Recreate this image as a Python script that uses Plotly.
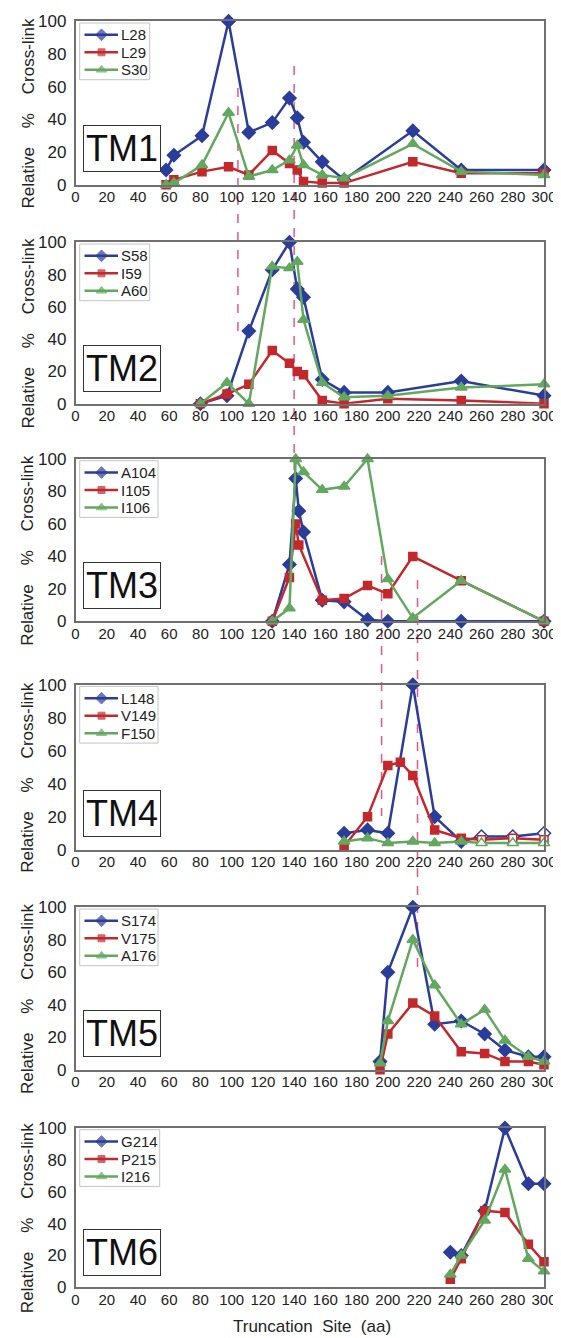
import plotly.graph_objects as go

# ---------------- data ----------------
tick_x = list(range(0, 301, 20))
tick_y = list(range(0, 101, 20))

tm1_x = [58, 63, 81, 98, 111, 126, 137, 142, 146, 158, 172, 216, 247, 300]
l28 = [9, 18, 30, 100, 32, 38, 53, 41, 26, 14, 3, 33, 9, 9]
l29 = [0, 3, 8, 11, 6, 21, 13, 9, 2, 1, 1, 14, 7, 7]
s30 = [0, 1, 12, 44, 5, 9, 15, 24, 12, 6, 4, 25, 8, 6]

tm2_x = [80, 97, 111, 126, 137, 142, 146, 158, 172, 200, 247, 300]
s58 = [0, 5, 45, 83, 100, 71, 66, 15, 7, 7, 14, 5]
i59 = [0, 6, 12, 33, 25, 20, 18, 2, 0, 3, 2, 0]
a60 = [0, 13, 0, 85, 84, 88, 52, 13, 4, 5, 10, 12]

tm3_x = [126, 137, 141, 143, 146, 158, 172, 187, 200, 216, 247, 300]
a104 = [0, 35, 88, 68, 55, 13, 12, 1, 0, None, 0, 0]
i105 = [0, 27, 60, 47, None, 13, 14, 22, 17, 40, 25, 0]
i106 = [0, 8, 100, None, 92, 81, 83, 100, 26, 2, 25, 0]

tm4_x = [172, 187, 200, 208, 216, 230, 247, 260, 280, 300]
l148 = [10, 12, 10, None, 100, 20, 5, 8, 8, 10]
v149 = [2, 20, 51, 53, 45, 12, 7, 6, 7, 6]
f150 = [5, 7, 4, None, 5, 4, 5, 4, 4, 4]
tm4_hollow_from = 260

tm5_x = [195, 200, 216, 230, 247, 262, 275, 290, 300]
s174 = [5, 60, 100, 28, 30, 22, 12, 8, 8]
v175 = [0, 22, 41, 33, 11, 10, 5, 5, 3]
a176 = [4, 30, 80, 52, 28, 37, 18, 8, 5]

tm6_x = [240, 247, 262, 275, 290, 300]
g214 = [22, 20, 48, 100, 65, 65]
p215 = [5, 18, 48, 47, 27, 16]
i216 = [8, 20, 42, 74, 18, 10]

panel_names = ["TM1", "TM2", "TM3", "TM4", "TM5", "TM6"]
panel_x = [tm1_x, tm2_x, tm3_x, tm4_x, tm5_x, tm6_x]
series_names = [["L28", "L29", "S30"], ["S58", "I59", "A60"], ["A104", "I105", "I106"],
                ["L148", "V149", "F150"], ["S174", "V175", "A176"], ["G214", "P215", "I216"]]
series_vals = [[l28, l29, s30], [s58, i59, a60], [a104, i105, i106],
               [l148, v149, f150], [s174, v175, a176], [g214, p215, i216]]
hollow_from = [None, None, None, tm4_hollow_from, None, None]

# dashed guide lines: x position (aa)
guide_x = [104, 140, 196, 219]

# ---------------- geometry / style ----------------
W, H = 561, 1338
PX0, PX1 = 67.5, 536.0
PANEL_PX = [(13.3, 176.7), (234.3, 395.7), (451.0, 613.3),
            (676.7, 841.7), (899.3, 1061.7), (1120.0, 1279.3)]
GUIDE_PX = [(80, 328), (58, 462), (548, 808), (572, 965)]

COLORS = ["#2B3D9B", "#C3282C", "#62A85E"]
SYMBOLS = ["diamond", "square", "triangle-up"]
SIZES = [10, 8, 10]
FONT = "Liberation Sans, Arial, sans-serif"
TXT = "#222222"
LEG_FONT = 15
CHAR_W = {"L": .556, "S": .667, "A": .667, "I": .278, "V": .667, "F": .611,
          "G": .778, "P": .667}

fig = go.Figure()
layout = dict(
    width=W, height=H,
    margin=dict(l=0, r=0, t=0, b=0),
    paper_bgcolor="white", plot_bgcolor="rgba(0,0,0,0)",
    font=dict(family=FONT, color=TXT),
    shapes=[], annotations=[], showlegend=False,
)

for i in range(6):
    n = "" if i == 0 else str(i + 1)
    xa, ya = "x" + n, "y" + n
    xs_all = panel_x[i]
    for k in range(3):
        vals = series_vals[i][k]
        xs = [x for x, v in zip(xs_all, vals) if v is not None]
        ys = [v for v in vals if v is not None]
        c = COLORS[k]
        hf = hollow_from[i]
        fills = [c if (hf is None or x < hf) else "white" for x in xs]
        fig.add_trace(go.Scatter(
            x=xs, y=ys, mode="lines+markers", name=series_names[i][k],
            line=dict(color=c, width=2.5),
            marker=dict(symbol=SYMBOLS[k], size=SIZES[k], color=fills,
                        line=dict(color=c, width=1.5)),
            cliponaxis=False, xaxis=xa, yaxis=ya,
        ))
    y100, y0 = PANEL_PX[i]
    layout["xaxis" + n] = dict(
        domain=[PX0 / W, PX1 / W], range=[0, 300], tickvals=tick_x,
        showline=True, mirror=True, linecolor="#707070", linewidth=1.5,
        showgrid=False, zeroline=False, ticks="", ticklabelstandoff=-2,
        tickfont=dict(size=15, color=TXT), anchor=ya, automargin=False,
    )
    layout["yaxis" + n] = dict(
        domain=[1 - y0 / H, 1 - y100 / H], range=[0, 100], tickvals=tick_y,
        showline=True, mirror=True, linecolor="#707070", linewidth=1.5,
        showgrid=False, zeroline=False, ticks="", ticklabelstandoff=4,
        tickfont=dict(size=17, color=TXT), anchor=xa, automargin=False,
    )
    # panel label box
    layout["annotations"].append(dict(
        text=panel_names[i], x=30, y=22, xref=xa, yref=ya, showarrow=False,
        xanchor="center", yanchor="middle",
        font=dict(size=36, color="#111111", family=FONT),
        bordercolor="#333333", borderwidth=1, borderpad=2, bgcolor="white",
    ))
    # y axis title
    layout["annotations"].append(dict(
        text="Relative\u00a0\u00a0\u00a0\u00a0%\u00a0\u00a0\u00a0\u00a0Cross-link",
        x=19.5 / W, y=1 - ((y100 + y0) / 2 + 11) / H, xref="paper", yref="paper",
        xanchor="center", yanchor="middle",
        textangle=-90, showarrow=False, font=dict(size=17, color=TXT),
    ))
    # legend (drawn in pixel space on the overlay axis)
    names = series_names[i]
    tw = max(sum(CHAR_W.get(ch, .556) for ch in nm) for nm in names) * LEG_FONT
    bx0, bx1 = 71.7, 111 + tw + 4
    by0, by1 = y100 + 1.7, y100 + 58.4
    layout["shapes"].append(dict(
        type="rect", xref="paper", yref="paper",
        x0=bx0 / W, x1=bx1 / W, y0=1 - by1 / H, y1=1 - by0 / H,
        line=dict(color="#c4c4c4", width=1), fillcolor="white", layer="below",
    ))
    for k in range(3):
        ey = y100 + 13.5 + 17.5 * k
        c = COLORS[k]
        fig.add_trace(go.Scatter(
            x=[76.5, 93.5, 110], y=[ey, ey, ey], mode="lines+markers",
            line=dict(color=c, width=2.5),
            marker=dict(symbol=SYMBOLS[k], size=[0, SIZES[k] - 1, 0], color=c,
                        line=dict(color=c, width=1)),
            cliponaxis=False, xaxis="x7", yaxis="y7", hoverinfo="skip",
        ))
        layout["annotations"].append(dict(
            text=names[k], x=110.5, y=ey, xref="x7", yref="y7", showarrow=False,
            xanchor="left", yanchor="middle", font=dict(size=LEG_FONT, color=TXT),
        ))

# overlay pixel-space axis for the legends
layout["xaxis7"] = dict(domain=[0, 1], range=[0, W], visible=False, anchor="y7")
layout["yaxis7"] = dict(domain=[0, 1], range=[H, 0], visible=False, anchor="x7")

for gx, (ya_px, yb_px) in zip(guide_x, GUIDE_PX):
    layout["shapes"].append(dict(
        type="line", xref="x", yref="paper", x0=gx, x1=gx,
        y0=1 - ya_px / H, y1=1 - yb_px / H, layer="below",
        line=dict(color="#E8558A", width=1.5, dash="dash"),
    ))

layout["annotations"].append(dict(
    text="Truncation\u00a0\u00a0Site\u00a0\u00a0(aa)", x=304 / W, y=1 - 1318 / H,
    xref="paper", yref="paper", xanchor="center", yanchor="middle",
    showarrow=False, font=dict(size=17, color=TXT),
))

fig.update_layout(**layout)
fig.write_html("out.html")
